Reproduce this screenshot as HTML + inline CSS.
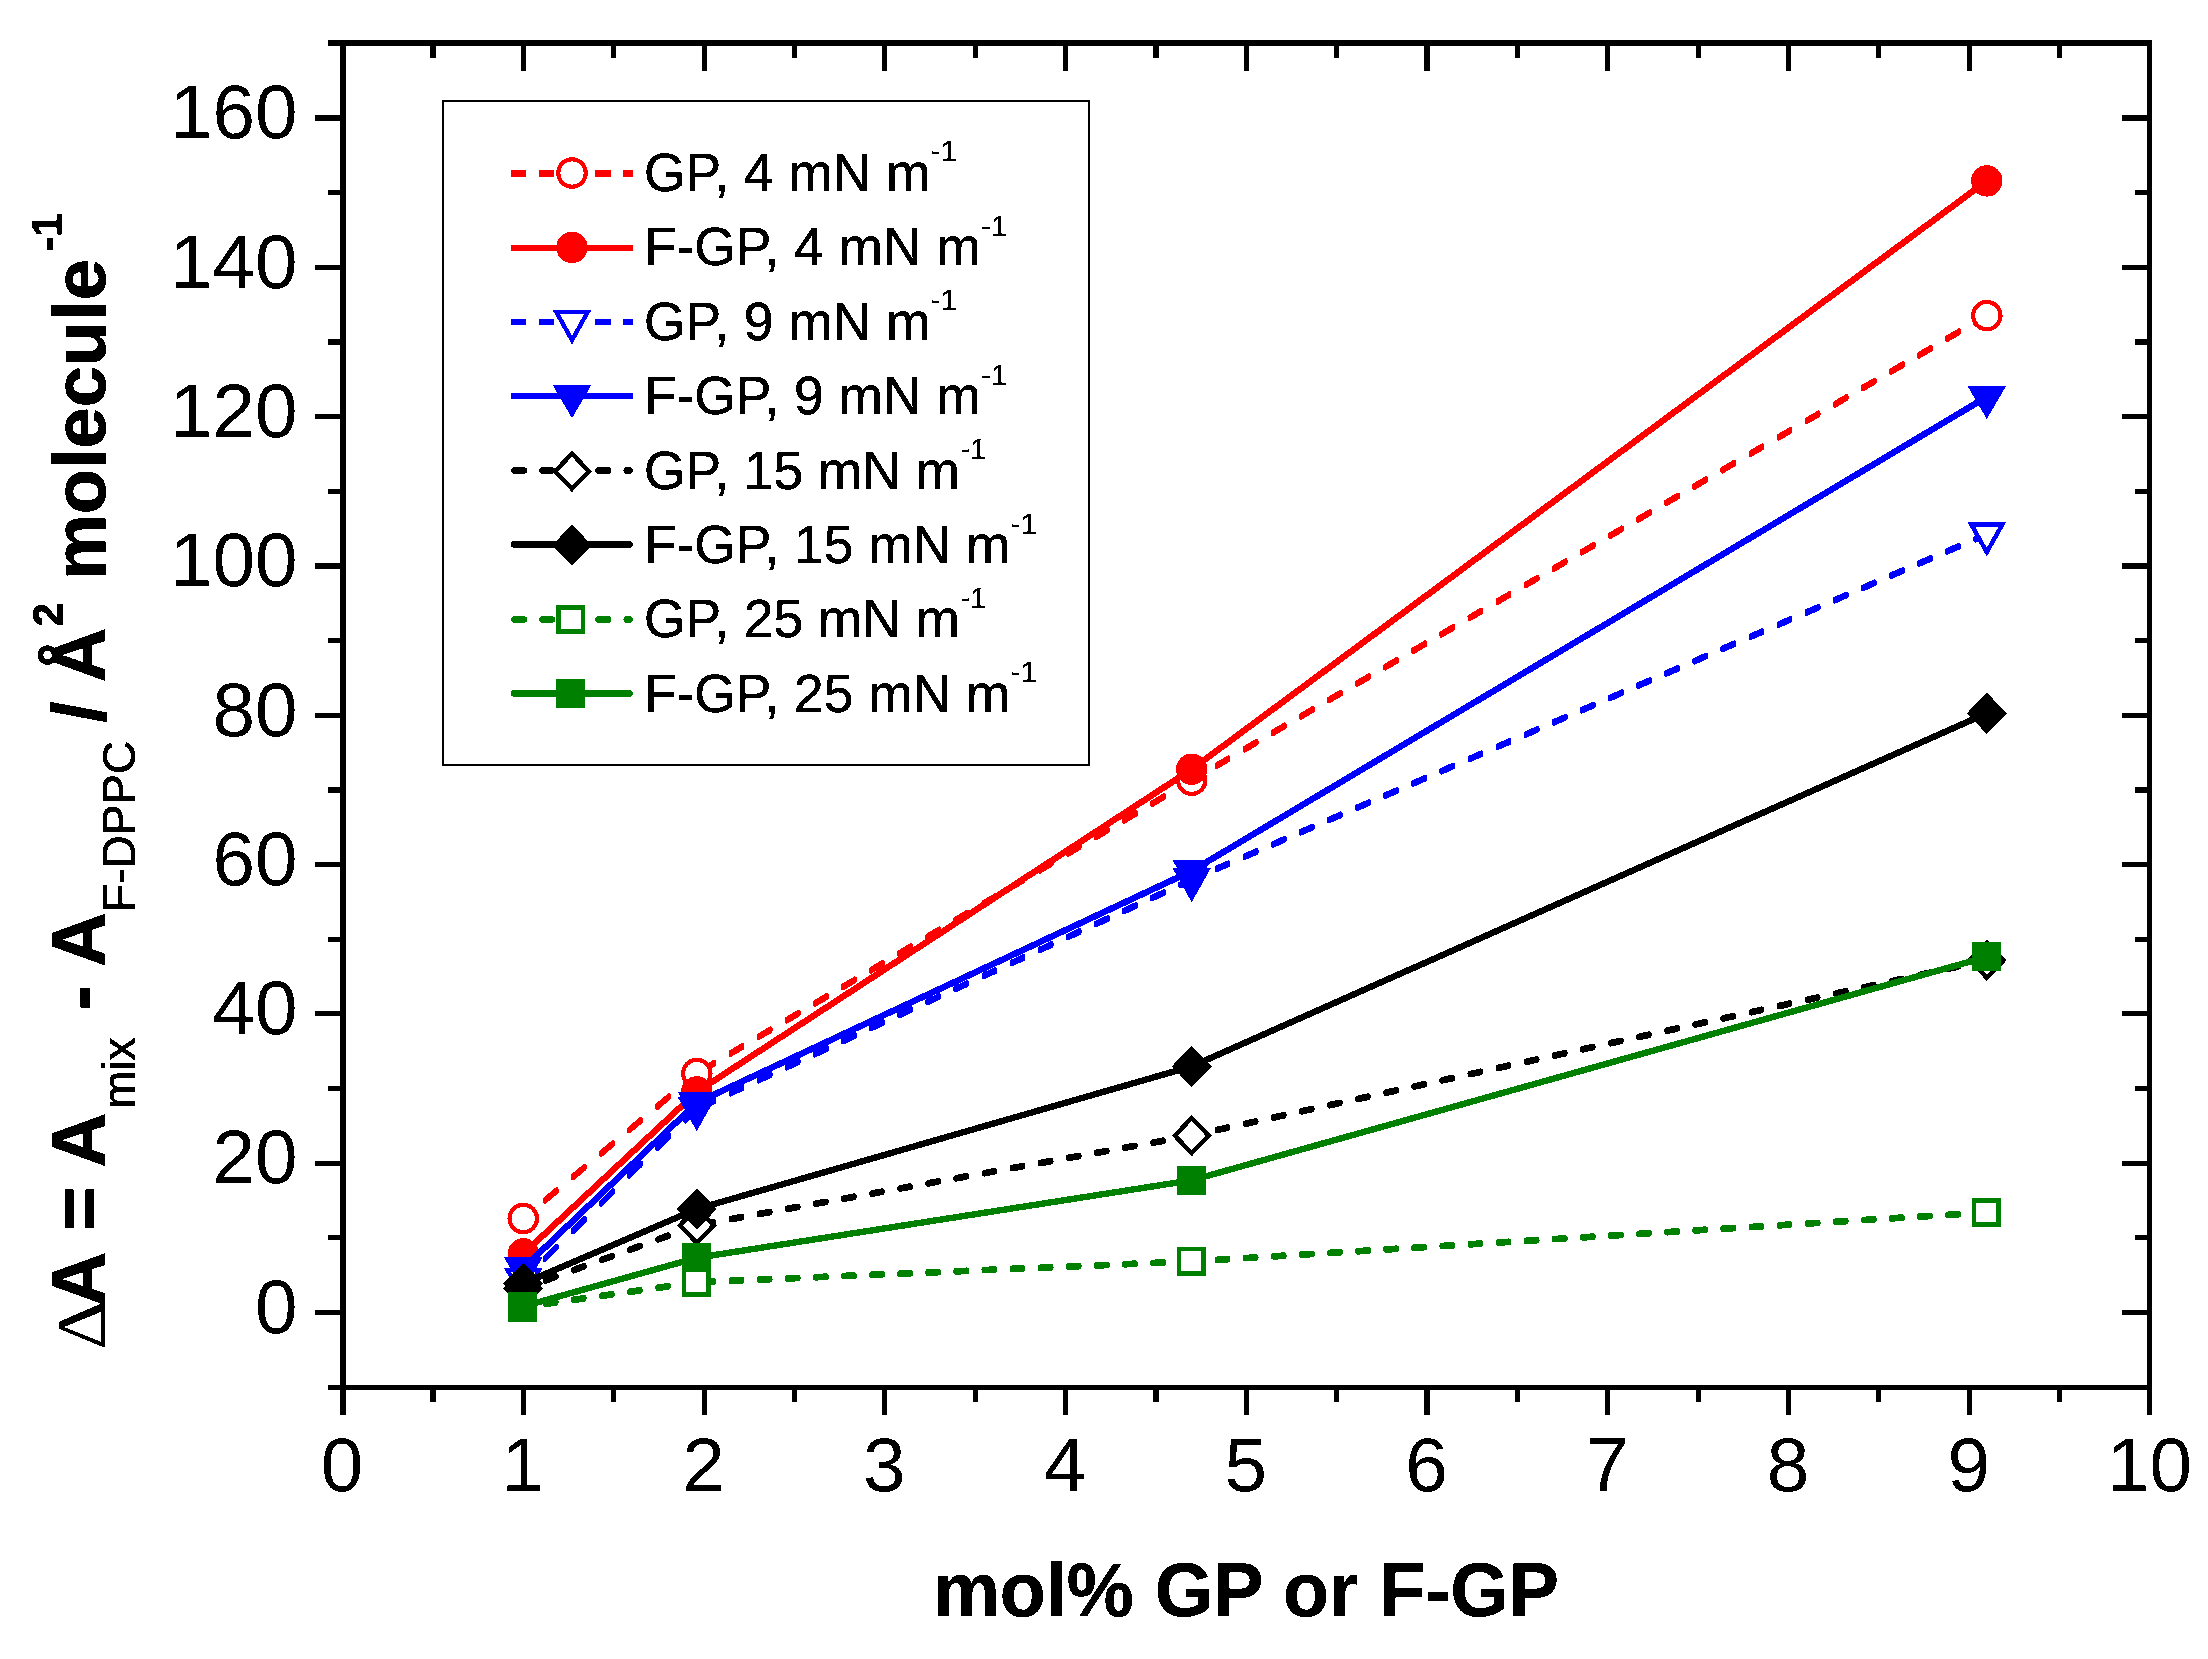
<!DOCTYPE html>
<html lang="en"><head><meta charset="utf-8"><title>Delta A vs mol% GP or F-GP</title>
<style>
html,body{margin:0;padding:0;background:#fff;}
body{width:2208px;height:1659px;overflow:hidden;}
svg{display:block;}
text{font-family:"Liberation Sans","DejaVu Sans",sans-serif;fill:#000;}
.tk{font-size:76.5px;}
.lg{font-size:53.3px;stroke:#000;stroke-width:0.5px;}
.lgs{font-size:29.5px;stroke-width:0.3px;}
.b{font-weight:bold;stroke:#000;stroke-width:0.9px;stroke-linejoin:round;}
.bi{font-weight:bold;font-style:italic;}
</style></head><body>
<svg width="2208" height="1659" viewBox="0 0 2208 1659">
<defs><filter id="crisp" x="-5%" y="-5%" width="110%" height="110%" color-interpolation-filters="sRGB"><feComponentTransfer><feFuncA type="discrete" tableValues="0 1"/></feComponentTransfer></filter></defs>
<rect x="0" y="0" width="2208" height="1659" fill="#ffffff"/>
<g id="plot-data" shape-rendering="crispEdges">
<g id="s-GP4">
<path d="M685.3 1081.7L694.8 1073.8L694.8 1076.6L685.3 1084.5ZM657.2 1105.2L669.0 1095.3L669.0 1098.1L657.2 1108.0ZM629.1 1128.7L640.9 1118.8L640.9 1121.6L629.1 1131.5ZM601.0 1152.2L612.8 1142.3L612.8 1145.1L601.0 1155.0ZM572.9 1175.6L584.7 1165.8L584.7 1168.6L572.9 1178.4ZM544.8 1199.1L556.6 1189.3L556.6 1192.1L544.8 1201.9ZM525.3 1215.4L528.5 1212.8L528.5 1215.6L525.3 1218.2Z" fill="#ff0000" stroke="#ff0000" stroke-width="4.0" stroke-linejoin="round"/>
<path d="M1180.2 785.6L1189.7 780.0L1189.7 782.8L1180.2 788.4ZM1152.1 802.3L1163.9 795.3L1163.9 798.1L1152.1 805.1ZM1124.0 818.9L1135.8 811.9L1135.8 814.7L1124.0 821.7ZM1095.9 835.6L1107.7 828.6L1107.7 831.4L1095.9 838.4ZM1067.8 852.2L1079.6 845.2L1079.6 848.0L1067.8 855.0ZM1039.7 868.9L1051.5 861.9L1051.5 864.7L1039.7 871.7ZM1011.6 885.5L1023.4 878.5L1023.4 881.3L1011.6 888.3ZM983.5 902.2L995.3 895.2L995.3 898.0L983.5 905.0ZM955.4 918.8L967.2 911.8L967.2 914.6L955.4 921.6ZM927.3 935.5L939.1 928.5L939.1 931.3L927.3 938.3ZM899.2 952.1L911.0 945.2L911.0 948.0L899.2 954.9ZM871.1 968.8L882.9 961.8L882.9 964.6L871.1 971.6ZM843.0 985.5L854.8 978.5L854.8 981.3L843.0 988.3ZM814.9 1002.1L826.7 995.1L826.7 997.9L814.9 1004.9ZM786.8 1018.8L798.6 1011.8L798.6 1014.6L786.8 1021.6ZM758.7 1035.4L770.5 1028.4L770.5 1031.2L758.7 1038.2ZM730.6 1052.1L742.4 1045.1L742.4 1047.9L730.6 1054.9ZM702.5 1068.7L714.3 1061.7L714.3 1064.5L702.5 1071.5Z" fill="#ff0000" stroke="#ff0000" stroke-width="4.0" stroke-linejoin="round"/>
<path d="M1975.3 320.9L1984.8 315.4L1984.8 318.2L1975.3 323.7ZM1947.2 337.3L1959.0 330.4L1959.0 333.2L1947.2 340.1ZM1919.1 353.8L1930.9 346.9L1930.9 349.7L1919.1 356.6ZM1891.0 370.2L1902.8 363.3L1902.8 366.1L1891.0 373.0ZM1862.9 386.6L1874.7 379.7L1874.7 382.5L1862.9 389.4ZM1834.8 403.0L1846.6 396.1L1846.6 398.9L1834.8 405.8ZM1806.7 419.4L1818.5 412.5L1818.5 415.3L1806.7 422.2ZM1778.6 435.9L1790.4 429.0L1790.4 431.8L1778.6 438.7ZM1750.5 452.3L1762.3 445.4L1762.3 448.2L1750.5 455.1ZM1722.4 468.7L1734.2 461.8L1734.2 464.6L1722.4 471.5ZM1694.3 485.1L1706.1 478.2L1706.1 481.0L1694.3 487.9ZM1666.2 501.5L1678.0 494.6L1678.0 497.4L1666.2 504.3ZM1638.1 518.0L1649.9 511.1L1649.9 513.9L1638.1 520.8ZM1610.0 534.4L1621.8 527.5L1621.8 530.3L1610.0 537.2ZM1581.9 550.8L1593.7 543.9L1593.7 546.7L1581.9 553.6ZM1553.8 567.2L1565.6 560.3L1565.6 563.1L1553.8 570.0ZM1525.7 583.6L1537.5 576.7L1537.5 579.5L1525.7 586.4ZM1497.6 600.1L1509.4 593.2L1509.4 596.0L1497.6 602.9ZM1469.5 616.5L1481.3 609.6L1481.3 612.4L1469.5 619.3ZM1441.4 632.9L1453.2 626.0L1453.2 628.8L1441.4 635.7ZM1413.3 649.3L1425.1 642.4L1425.1 645.2L1413.3 652.1ZM1385.2 665.7L1397.0 658.8L1397.0 661.6L1385.2 668.5ZM1357.1 682.2L1368.9 675.3L1368.9 678.1L1357.1 685.0ZM1329.0 698.6L1340.8 691.7L1340.8 694.5L1329.0 701.4ZM1300.9 715.0L1312.7 708.1L1312.7 710.9L1300.9 717.8ZM1272.8 731.4L1284.6 724.5L1284.6 727.3L1272.8 734.2ZM1244.7 747.8L1256.5 740.9L1256.5 743.7L1244.7 750.6ZM1216.6 764.3L1228.4 757.4L1228.4 760.2L1216.6 767.1ZM1193.7 777.6L1200.3 773.8L1200.3 776.6L1193.7 780.4Z" fill="#ff0000" stroke="#ff0000" stroke-width="4.0" stroke-linejoin="round"/>
<circle cx="523.3" cy="1218.5" r="13.7" fill="#fff" stroke="#ff0000" stroke-width="4.2"/>
<circle cx="696.8" cy="1073.5" r="13.7" fill="#fff" stroke="#ff0000" stroke-width="4.2"/>
<circle cx="1191.7" cy="780.2" r="13.7" fill="#fff" stroke="#ff0000" stroke-width="4.2"/>
<circle cx="1986.8" cy="315.6" r="13.7" fill="#fff" stroke="#ff0000" stroke-width="4.2"/>
</g>
<g id="s-FGP4">
<polyline points="523.3,1253.9 696.8,1091.9 1191.7,769.3 1986.8,180.9" fill="none" stroke="#ff0000" stroke-width="6.4" stroke-linejoin="round"/>
<circle cx="523.3" cy="1253.9" r="15.7" fill="#ff0000"/>
<circle cx="696.8" cy="1091.9" r="15.7" fill="#ff0000"/>
<circle cx="1191.7" cy="769.3" r="15.7" fill="#ff0000"/>
<circle cx="1986.8" cy="180.9" r="15.7" fill="#ff0000"/>
</g>
<g id="s-GP9">
<path d="M685.3 1118.7L694.8 1109.3L694.8 1112.1L685.3 1121.5ZM657.2 1146.4L669.0 1134.7L669.0 1137.5L657.2 1149.2ZM629.1 1174.1L640.9 1162.5L640.9 1165.3L629.1 1176.9ZM601.0 1201.9L612.8 1190.2L612.8 1193.0L601.0 1204.7ZM572.9 1229.6L584.7 1218.0L584.7 1220.8L572.9 1232.4ZM544.8 1257.4L556.6 1245.7L556.6 1248.5L544.8 1260.2ZM525.3 1276.6L528.5 1273.5L528.5 1276.3L525.3 1279.4Z" fill="#0000ff" stroke="#0000ff" stroke-width="4.0" stroke-linejoin="round"/>
<path d="M1180.2 883.6L1189.7 879.2L1189.7 882.0L1180.2 886.4ZM1152.1 896.6L1163.9 891.2L1163.9 894.0L1152.1 899.4ZM1124.0 909.6L1135.8 904.2L1135.8 907.0L1124.0 912.4ZM1095.9 922.6L1107.7 917.2L1107.7 920.0L1095.9 925.4ZM1067.8 935.6L1079.6 930.2L1079.6 933.0L1067.8 938.4ZM1039.7 948.6L1051.5 943.2L1051.5 946.0L1039.7 951.4ZM1011.6 961.6L1023.4 956.2L1023.4 959.0L1011.6 964.4ZM983.5 974.6L995.3 969.2L995.3 972.0L983.5 977.4ZM955.4 987.6L967.2 982.2L967.2 985.0L955.4 990.4ZM927.3 1000.6L939.1 995.2L939.1 998.0L927.3 1003.4ZM899.2 1013.6L911.0 1008.2L911.0 1011.0L899.2 1016.4ZM871.1 1026.6L882.9 1021.2L882.9 1024.0L871.1 1029.4ZM843.0 1039.7L854.8 1034.2L854.8 1037.0L843.0 1042.5ZM814.9 1052.7L826.7 1047.2L826.7 1050.0L814.9 1055.5ZM786.8 1065.7L798.6 1060.2L798.6 1063.0L786.8 1068.5ZM758.7 1078.7L770.5 1073.2L770.5 1076.0L758.7 1081.5ZM730.6 1091.7L742.4 1086.2L742.4 1089.0L730.6 1094.5ZM702.5 1104.7L714.3 1099.2L714.3 1102.0L702.5 1107.5Z" fill="#0000ff" stroke="#0000ff" stroke-width="4.0" stroke-linejoin="round"/>
<path d="M1975.3 537.7L1984.8 533.6L1984.8 536.4L1975.3 540.5ZM1947.2 549.9L1959.0 544.8L1959.0 547.6L1947.2 552.7ZM1919.1 562.1L1930.9 557.0L1930.9 559.8L1919.1 564.9ZM1891.0 574.3L1902.8 569.2L1902.8 572.0L1891.0 577.1ZM1862.9 586.6L1874.7 581.4L1874.7 584.2L1862.9 589.4ZM1834.8 598.8L1846.6 593.6L1846.6 596.4L1834.8 601.6ZM1806.7 611.0L1818.5 605.9L1818.5 608.7L1806.7 613.8ZM1778.6 623.2L1790.4 618.1L1790.4 620.9L1778.6 626.0ZM1750.5 635.4L1762.3 630.3L1762.3 633.1L1750.5 638.2ZM1722.4 647.6L1734.2 642.5L1734.2 645.3L1722.4 650.4ZM1694.3 659.8L1706.1 654.7L1706.1 657.5L1694.3 662.6ZM1666.2 672.1L1678.0 666.9L1678.0 669.7L1666.2 674.9ZM1638.1 684.3L1649.9 679.1L1649.9 681.9L1638.1 687.1ZM1610.0 696.5L1621.8 691.4L1621.8 694.2L1610.0 699.3ZM1581.9 708.7L1593.7 703.6L1593.7 706.4L1581.9 711.5ZM1553.8 720.9L1565.6 715.8L1565.6 718.6L1553.8 723.7ZM1525.7 733.1L1537.5 728.0L1537.5 730.8L1525.7 735.9ZM1497.6 745.3L1509.4 740.2L1509.4 743.0L1497.6 748.1ZM1469.5 757.6L1481.3 752.4L1481.3 755.2L1469.5 760.4ZM1441.4 769.8L1453.2 764.6L1453.2 767.4L1441.4 772.6ZM1413.3 782.0L1425.1 776.8L1425.1 779.6L1413.3 784.8ZM1385.2 794.2L1397.0 789.1L1397.0 791.9L1385.2 797.0ZM1357.1 806.4L1368.9 801.3L1368.9 804.1L1357.1 809.2ZM1329.0 818.6L1340.8 813.5L1340.8 816.3L1329.0 821.4ZM1300.9 830.8L1312.7 825.7L1312.7 828.5L1300.9 833.6ZM1272.8 843.0L1284.6 837.9L1284.6 840.7L1272.8 845.8ZM1244.7 855.3L1256.5 850.1L1256.5 852.9L1244.7 858.1ZM1216.6 867.5L1228.4 862.3L1228.4 865.1L1216.6 870.3ZM1193.7 877.4L1200.3 874.6L1200.3 877.4L1193.7 880.2Z" fill="#0000ff" stroke="#0000ff" stroke-width="4.0" stroke-linejoin="round"/>
<polygon points="507.7,1270.2 538.9,1270.2 523.3,1298.1" fill="#fff" stroke="#0000ff" stroke-width="4.4" stroke-linejoin="miter"/>
<polygon points="681.2,1098.9 712.4,1098.9 696.8,1126.8" fill="#fff" stroke="#0000ff" stroke-width="4.4" stroke-linejoin="miter"/>
<polygon points="1176.1,869.9 1207.3,869.9 1191.7,897.8" fill="#fff" stroke="#0000ff" stroke-width="4.4" stroke-linejoin="miter"/>
<polygon points="1971.2,524.3 2002.4,524.3 1986.8,552.2" fill="#fff" stroke="#0000ff" stroke-width="4.4" stroke-linejoin="miter"/>
</g>
<g id="s-FGP9">
<polyline points="523.3,1268.2 696.8,1102.7 1191.7,871.0 1986.8,396.9" fill="none" stroke="#0000ff" stroke-width="6.4" stroke-linejoin="round"/>
<polygon points="504.0,1257.2 542.6,1257.2 523.3,1290.4" fill="#0000ff"/>
<polygon points="677.5,1091.7 716.1,1091.7 696.8,1124.9" fill="#0000ff"/>
<polygon points="1172.4,860.0 1211.0,860.0 1191.7,893.2" fill="#0000ff"/>
<polygon points="1967.5,385.9 2006.1,385.9 1986.8,419.1" fill="#0000ff"/>
</g>
<g id="s-GP15">
<path d="M686.1 1228.6L694.0 1225.7L694.0 1226.9L686.1 1229.8ZM658.0 1238.8L668.2 1235.1L668.2 1236.3L658.0 1240.0ZM629.9 1249.1L640.1 1245.4L640.1 1246.6L629.9 1250.3ZM601.8 1259.3L612.0 1255.6L612.0 1256.8L601.8 1260.5ZM573.7 1269.5L583.9 1265.8L583.9 1267.0L573.7 1270.7ZM545.6 1279.8L555.8 1276.1L555.8 1277.3L545.6 1281.0ZM526.1 1286.9L527.7 1286.3L527.7 1287.5L526.1 1288.1Z" fill="#000000" stroke="#000000" stroke-width="5.6" stroke-linejoin="round"/>
<path d="M1181.0 1136.9L1188.9 1135.5L1188.9 1136.7L1181.0 1138.1ZM1152.9 1142.0L1163.1 1140.2L1163.1 1141.4L1152.9 1143.2ZM1124.8 1147.1L1135.0 1145.3L1135.0 1146.5L1124.8 1148.3ZM1096.7 1152.2L1106.9 1150.4L1106.9 1151.6L1096.7 1153.4ZM1068.6 1157.3L1078.8 1155.5L1078.8 1156.7L1068.6 1158.5ZM1040.5 1162.4L1050.7 1160.6L1050.7 1161.8L1040.5 1163.6ZM1012.4 1167.5L1022.6 1165.6L1022.6 1166.8L1012.4 1168.7ZM984.3 1172.6L994.5 1170.7L994.5 1171.9L984.3 1173.8ZM956.2 1177.7L966.4 1175.8L966.4 1177.0L956.2 1178.9ZM928.1 1182.8L938.3 1180.9L938.3 1182.1L928.1 1184.0ZM900.0 1187.9L910.2 1186.0L910.2 1187.2L900.0 1189.1ZM871.9 1193.0L882.1 1191.1L882.1 1192.3L871.9 1194.2ZM843.8 1198.1L854.0 1196.2L854.0 1197.4L843.8 1199.3ZM815.7 1203.1L825.9 1201.3L825.9 1202.5L815.7 1204.3ZM787.6 1208.2L797.8 1206.4L797.8 1207.6L787.6 1209.4ZM759.5 1213.3L769.7 1211.5L769.7 1212.7L759.5 1214.5ZM731.4 1218.4L741.6 1216.6L741.6 1217.8L731.4 1219.6ZM703.3 1223.5L713.5 1221.7L713.5 1222.9L703.3 1224.7Z" fill="#000000" stroke="#000000" stroke-width="5.6" stroke-linejoin="round"/>
<path d="M1976.1 962.0L1984.0 960.2L1984.0 961.4L1976.1 963.2ZM1948.0 968.2L1958.2 965.9L1958.2 967.1L1948.0 969.4ZM1919.9 974.4L1930.1 972.1L1930.1 973.3L1919.9 975.6ZM1891.8 980.6L1902.0 978.3L1902.0 979.5L1891.8 981.8ZM1863.7 986.8L1873.9 984.5L1873.9 985.7L1863.7 988.0ZM1835.6 993.0L1845.8 990.7L1845.8 991.9L1835.6 994.2ZM1807.5 999.2L1817.7 996.9L1817.7 998.1L1807.5 1000.4ZM1779.4 1005.4L1789.6 1003.1L1789.6 1004.3L1779.4 1006.6ZM1751.3 1011.6L1761.5 1009.3L1761.5 1010.5L1751.3 1012.8ZM1723.2 1017.8L1733.4 1015.5L1733.4 1016.7L1723.2 1019.0ZM1695.1 1023.9L1705.3 1021.7L1705.3 1022.9L1695.1 1025.1ZM1667.0 1030.1L1677.2 1027.9L1677.2 1029.1L1667.0 1031.3ZM1638.9 1036.3L1649.1 1034.1L1649.1 1035.3L1638.9 1037.5ZM1610.8 1042.5L1621.0 1040.3L1621.0 1041.5L1610.8 1043.7ZM1582.7 1048.7L1592.9 1046.5L1592.9 1047.7L1582.7 1049.9ZM1554.6 1054.9L1564.8 1052.7L1564.8 1053.9L1554.6 1056.1ZM1526.5 1061.1L1536.7 1058.9L1536.7 1060.1L1526.5 1062.3ZM1498.4 1067.3L1508.6 1065.1L1508.6 1066.3L1498.4 1068.5ZM1470.3 1073.5L1480.5 1071.3L1480.5 1072.5L1470.3 1074.7ZM1442.2 1079.7L1452.4 1077.5L1452.4 1078.7L1442.2 1080.9ZM1414.1 1085.9L1424.3 1083.7L1424.3 1084.9L1414.1 1087.1ZM1386.0 1092.1L1396.2 1089.9L1396.2 1091.1L1386.0 1093.3ZM1357.9 1098.3L1368.1 1096.1L1368.1 1097.3L1357.9 1099.5ZM1329.8 1104.5L1340.0 1102.3L1340.0 1103.5L1329.8 1105.7ZM1301.7 1110.7L1311.9 1108.5L1311.9 1109.7L1301.7 1111.9ZM1273.6 1116.9L1283.8 1114.7L1283.8 1115.9L1273.6 1118.1ZM1245.5 1123.1L1255.7 1120.9L1255.7 1122.1L1245.5 1124.3ZM1217.4 1129.3L1227.6 1127.1L1227.6 1128.3L1217.4 1130.5ZM1194.5 1134.4L1199.5 1133.3L1199.5 1134.5L1194.5 1135.6Z" fill="#000000" stroke="#000000" stroke-width="5.6" stroke-linejoin="round"/>
<polygon points="523.3,1270.9 540.2,1288.5 523.3,1306.1 506.4,1288.5" fill="#fff" stroke="#000000" stroke-width="4.4" stroke-linejoin="miter"/>
<polygon points="696.8,1207.7 713.7,1225.3 696.8,1242.9 679.9,1225.3" fill="#fff" stroke="#000000" stroke-width="4.4" stroke-linejoin="miter"/>
<polygon points="1191.7,1118.0 1208.6,1135.6 1191.7,1153.2 1174.8,1135.6" fill="#fff" stroke="#000000" stroke-width="4.4" stroke-linejoin="miter"/>
<polygon points="1986.8,942.6 2003.7,960.2 1986.8,977.8 1969.9,960.2" fill="#fff" stroke="#000000" stroke-width="4.4" stroke-linejoin="miter"/>
</g>
<g id="s-FGP15">
<polyline points="523.3,1283.5 696.8,1209.0 1191.7,1066.4 1986.8,713.3" fill="none" stroke="#000000" stroke-width="6.4" stroke-linejoin="round"/>
<polygon points="523.3,1262.8 543.3,1283.5 523.3,1304.2 503.3,1283.5" fill="#000000"/>
<polygon points="696.8,1188.3 716.8,1209.0 696.8,1229.7 676.8,1209.0" fill="#000000"/>
<polygon points="1191.7,1045.7 1211.7,1066.4 1191.7,1087.1 1171.7,1066.4" fill="#000000"/>
<polygon points="1986.8,692.6 2006.8,713.3 1986.8,734.0 1966.8,713.3" fill="#000000"/>
</g>
<g id="s-GP25">
<path d="M686.1 1283.1L694.0 1282.0L694.0 1283.2L686.1 1284.3ZM658.0 1287.1L668.2 1285.7L668.2 1286.9L658.0 1288.3ZM629.9 1291.2L640.1 1289.7L640.1 1290.9L629.9 1292.4ZM601.8 1295.2L612.0 1293.7L612.0 1294.9L601.8 1296.4ZM573.7 1299.2L583.9 1297.7L583.9 1298.9L573.7 1300.4ZM545.6 1303.2L555.8 1301.8L555.8 1303.0L545.6 1304.4ZM526.1 1306.0L527.7 1305.8L527.7 1307.0L526.1 1307.2Z" fill="#008000" stroke="#008000" stroke-width="5.6" stroke-linejoin="round"/>
<path d="M1181.0 1261.2L1188.9 1260.9L1188.9 1262.1L1181.0 1262.4ZM1152.9 1262.4L1163.1 1262.0L1163.1 1263.2L1152.9 1263.6ZM1124.8 1263.6L1135.0 1263.2L1135.0 1264.4L1124.8 1264.8ZM1096.7 1264.8L1106.9 1264.4L1106.9 1265.6L1096.7 1266.0ZM1068.6 1266.0L1078.8 1265.5L1078.8 1266.7L1068.6 1267.2ZM1040.5 1267.2L1050.7 1266.7L1050.7 1267.9L1040.5 1268.4ZM1012.4 1268.3L1022.6 1267.9L1022.6 1269.1L1012.4 1269.5ZM984.3 1269.5L994.5 1269.1L994.5 1270.3L984.3 1270.7ZM956.2 1270.7L966.4 1270.3L966.4 1271.5L956.2 1271.9ZM928.1 1271.9L938.3 1271.5L938.3 1272.7L928.1 1273.1ZM900.0 1273.1L910.2 1272.6L910.2 1273.8L900.0 1274.3ZM871.9 1274.2L882.1 1273.8L882.1 1275.0L871.9 1275.4ZM843.8 1275.4L854.0 1275.0L854.0 1276.2L843.8 1276.6ZM815.7 1276.6L825.9 1276.2L825.9 1277.4L815.7 1277.8ZM787.6 1277.8L797.8 1277.4L797.8 1278.6L787.6 1279.0ZM759.5 1279.0L769.7 1278.5L769.7 1279.7L759.5 1280.2ZM731.4 1280.1L741.6 1279.7L741.6 1280.9L731.4 1281.3ZM703.3 1281.3L713.5 1280.9L713.5 1282.1L703.3 1282.5Z" fill="#008000" stroke="#008000" stroke-width="5.6" stroke-linejoin="round"/>
<path d="M1976.1 1212.6L1984.0 1212.1L1984.0 1213.3L1976.1 1213.8ZM1948.0 1214.3L1958.2 1213.7L1958.2 1214.9L1948.0 1215.5ZM1919.9 1216.0L1930.1 1215.4L1930.1 1216.6L1919.9 1217.2ZM1891.8 1217.7L1902.0 1217.1L1902.0 1218.3L1891.8 1218.9ZM1863.7 1219.5L1873.9 1218.8L1873.9 1220.0L1863.7 1220.7ZM1835.6 1221.2L1845.8 1220.6L1845.8 1221.8L1835.6 1222.4ZM1807.5 1222.9L1817.7 1222.3L1817.7 1223.5L1807.5 1224.1ZM1779.4 1224.7L1789.6 1224.0L1789.6 1225.2L1779.4 1225.9ZM1751.3 1226.4L1761.5 1225.8L1761.5 1227.0L1751.3 1227.6ZM1723.2 1228.1L1733.4 1227.5L1733.4 1228.7L1723.2 1229.3ZM1695.1 1229.8L1705.3 1229.2L1705.3 1230.4L1695.1 1231.0ZM1667.0 1231.6L1677.2 1230.9L1677.2 1232.1L1667.0 1232.8ZM1638.9 1233.3L1649.1 1232.7L1649.1 1233.9L1638.9 1234.5ZM1610.8 1235.0L1621.0 1234.4L1621.0 1235.6L1610.8 1236.2ZM1582.7 1236.8L1592.9 1236.1L1592.9 1237.3L1582.7 1238.0ZM1554.6 1238.5L1564.8 1237.9L1564.8 1239.1L1554.6 1239.7ZM1526.5 1240.2L1536.7 1239.6L1536.7 1240.8L1526.5 1241.4ZM1498.4 1241.9L1508.6 1241.3L1508.6 1242.5L1498.4 1243.1ZM1470.3 1243.7L1480.5 1243.0L1480.5 1244.2L1470.3 1244.9ZM1442.2 1245.4L1452.4 1244.8L1452.4 1246.0L1442.2 1246.6ZM1414.1 1247.1L1424.3 1246.5L1424.3 1247.7L1414.1 1248.3ZM1386.0 1248.9L1396.2 1248.2L1396.2 1249.4L1386.0 1250.1ZM1357.9 1250.6L1368.1 1250.0L1368.1 1251.2L1357.9 1251.8ZM1329.8 1252.3L1340.0 1251.7L1340.0 1252.9L1329.8 1253.5ZM1301.7 1254.0L1311.9 1253.4L1311.9 1254.6L1301.7 1255.2ZM1273.6 1255.8L1283.8 1255.1L1283.8 1256.3L1273.6 1257.0ZM1245.5 1257.5L1255.7 1256.9L1255.7 1258.1L1245.5 1258.7ZM1217.4 1259.2L1227.6 1258.6L1227.6 1259.8L1217.4 1260.4ZM1194.5 1260.6L1199.5 1260.3L1199.5 1261.5L1194.5 1261.8Z" fill="#008000" stroke="#008000" stroke-width="5.6" stroke-linejoin="round"/>
<rect x="510.6" y="1294.8" width="24.4" height="24.4" fill="#fff" stroke="#008000" stroke-width="4.6"/>
<rect x="684.1" y="1270.0" width="24.4" height="24.4" fill="#fff" stroke="#008000" stroke-width="4.6"/>
<rect x="1179.0" y="1249.2" width="24.4" height="24.4" fill="#fff" stroke="#008000" stroke-width="4.6"/>
<rect x="1974.1" y="1200.3" width="24.4" height="24.4" fill="#fff" stroke="#008000" stroke-width="4.6"/>
</g>
<g id="s-FGP25">
<polyline points="523.3,1306.4 696.8,1257.8 1191.7,1180.3 1986.8,956.9" fill="none" stroke="#008000" stroke-width="6.4" stroke-linejoin="round"/>
<rect x="508.3" y="1291.9" width="29" height="29" fill="#008000"/>
<rect x="681.8" y="1243.3" width="29" height="29" fill="#008000"/>
<rect x="1176.7" y="1165.8" width="29" height="29" fill="#008000"/>
<rect x="1971.8" y="942.4" width="29" height="29" fill="#008000"/>
</g>
</g>
<g id="axes" stroke="#000" fill="none" shape-rendering="crispEdges">
<line x1="343.0" y1="40.2" x2="343.0" y2="1415.3" stroke-width="5.6"/>
<line x1="2149.5" y1="40.2" x2="2149.5" y2="1415.3" stroke-width="5.6"/>
<line x1="328.0" y1="43.0" x2="2152.3" y2="43.0" stroke-width="5.6"/>
<line x1="328.0" y1="1387.5" x2="2152.3" y2="1387.5" stroke-width="5.6"/>
<line x1="433.0" y1="1389.8" x2="433.0" y2="1402.3" stroke-width="5.2"/>
<line x1="433.0" y1="45.3" x2="433.0" y2="57.8" stroke-width="5.2"/>
<line x1="523.3" y1="1389.8" x2="523.3" y2="1415.3" stroke-width="5.2"/>
<line x1="523.3" y1="45.3" x2="523.3" y2="70.8" stroke-width="5.2"/>
<line x1="613.7" y1="1389.8" x2="613.7" y2="1402.3" stroke-width="5.2"/>
<line x1="613.7" y1="45.3" x2="613.7" y2="57.8" stroke-width="5.2"/>
<line x1="704.1" y1="1389.8" x2="704.1" y2="1415.3" stroke-width="5.2"/>
<line x1="704.1" y1="45.3" x2="704.1" y2="70.8" stroke-width="5.2"/>
<line x1="794.4" y1="1389.8" x2="794.4" y2="1402.3" stroke-width="5.2"/>
<line x1="794.4" y1="45.3" x2="794.4" y2="57.8" stroke-width="5.2"/>
<line x1="884.8" y1="1389.8" x2="884.8" y2="1415.3" stroke-width="5.2"/>
<line x1="884.8" y1="45.3" x2="884.8" y2="70.8" stroke-width="5.2"/>
<line x1="975.2" y1="1389.8" x2="975.2" y2="1402.3" stroke-width="5.2"/>
<line x1="975.2" y1="45.3" x2="975.2" y2="57.8" stroke-width="5.2"/>
<line x1="1065.5" y1="1389.8" x2="1065.5" y2="1415.3" stroke-width="5.2"/>
<line x1="1065.5" y1="45.3" x2="1065.5" y2="70.8" stroke-width="5.2"/>
<line x1="1155.9" y1="1389.8" x2="1155.9" y2="1402.3" stroke-width="5.2"/>
<line x1="1155.9" y1="45.3" x2="1155.9" y2="57.8" stroke-width="5.2"/>
<line x1="1246.2" y1="1389.8" x2="1246.2" y2="1415.3" stroke-width="5.2"/>
<line x1="1246.2" y1="45.3" x2="1246.2" y2="70.8" stroke-width="5.2"/>
<line x1="1336.6" y1="1389.8" x2="1336.6" y2="1402.3" stroke-width="5.2"/>
<line x1="1336.6" y1="45.3" x2="1336.6" y2="57.8" stroke-width="5.2"/>
<line x1="1427.0" y1="1389.8" x2="1427.0" y2="1415.3" stroke-width="5.2"/>
<line x1="1427.0" y1="45.3" x2="1427.0" y2="70.8" stroke-width="5.2"/>
<line x1="1517.3" y1="1389.8" x2="1517.3" y2="1402.3" stroke-width="5.2"/>
<line x1="1517.3" y1="45.3" x2="1517.3" y2="57.8" stroke-width="5.2"/>
<line x1="1607.7" y1="1389.8" x2="1607.7" y2="1415.3" stroke-width="5.2"/>
<line x1="1607.7" y1="45.3" x2="1607.7" y2="70.8" stroke-width="5.2"/>
<line x1="1698.1" y1="1389.8" x2="1698.1" y2="1402.3" stroke-width="5.2"/>
<line x1="1698.1" y1="45.3" x2="1698.1" y2="57.8" stroke-width="5.2"/>
<line x1="1788.4" y1="1389.8" x2="1788.4" y2="1415.3" stroke-width="5.2"/>
<line x1="1788.4" y1="45.3" x2="1788.4" y2="70.8" stroke-width="5.2"/>
<line x1="1878.8" y1="1389.8" x2="1878.8" y2="1402.3" stroke-width="5.2"/>
<line x1="1878.8" y1="45.3" x2="1878.8" y2="57.8" stroke-width="5.2"/>
<line x1="1969.2" y1="1389.8" x2="1969.2" y2="1415.3" stroke-width="5.2"/>
<line x1="1969.2" y1="45.3" x2="1969.2" y2="70.8" stroke-width="5.2"/>
<line x1="2059.5" y1="1389.8" x2="2059.5" y2="1402.3" stroke-width="5.2"/>
<line x1="2059.5" y1="45.3" x2="2059.5" y2="57.8" stroke-width="5.2"/>
<line x1="340.7" y1="1312.4" x2="315.2" y2="1312.4" stroke-width="5.2"/>
<line x1="2147.2" y1="1312.4" x2="2121.7" y2="1312.4" stroke-width="5.2"/>
<line x1="340.7" y1="1237.8" x2="328.2" y2="1237.8" stroke-width="5.2"/>
<line x1="2147.2" y1="1237.8" x2="2134.7" y2="1237.8" stroke-width="5.2"/>
<line x1="340.7" y1="1163.1" x2="315.2" y2="1163.1" stroke-width="5.2"/>
<line x1="2147.2" y1="1163.1" x2="2121.7" y2="1163.1" stroke-width="5.2"/>
<line x1="340.7" y1="1088.5" x2="328.2" y2="1088.5" stroke-width="5.2"/>
<line x1="2147.2" y1="1088.5" x2="2134.7" y2="1088.5" stroke-width="5.2"/>
<line x1="340.7" y1="1013.8" x2="315.2" y2="1013.8" stroke-width="5.2"/>
<line x1="2147.2" y1="1013.8" x2="2121.7" y2="1013.8" stroke-width="5.2"/>
<line x1="340.7" y1="939.2" x2="328.2" y2="939.2" stroke-width="5.2"/>
<line x1="2147.2" y1="939.2" x2="2134.7" y2="939.2" stroke-width="5.2"/>
<line x1="340.7" y1="864.5" x2="315.2" y2="864.5" stroke-width="5.2"/>
<line x1="2147.2" y1="864.5" x2="2121.7" y2="864.5" stroke-width="5.2"/>
<line x1="340.7" y1="789.9" x2="328.2" y2="789.9" stroke-width="5.2"/>
<line x1="2147.2" y1="789.9" x2="2134.7" y2="789.9" stroke-width="5.2"/>
<line x1="340.7" y1="715.2" x2="315.2" y2="715.2" stroke-width="5.2"/>
<line x1="2147.2" y1="715.2" x2="2121.7" y2="715.2" stroke-width="5.2"/>
<line x1="340.7" y1="640.5" x2="328.2" y2="640.5" stroke-width="5.2"/>
<line x1="2147.2" y1="640.5" x2="2134.7" y2="640.5" stroke-width="5.2"/>
<line x1="340.7" y1="565.9" x2="315.2" y2="565.9" stroke-width="5.2"/>
<line x1="2147.2" y1="565.9" x2="2121.7" y2="565.9" stroke-width="5.2"/>
<line x1="340.7" y1="491.3" x2="328.2" y2="491.3" stroke-width="5.2"/>
<line x1="2147.2" y1="491.3" x2="2134.7" y2="491.3" stroke-width="5.2"/>
<line x1="340.7" y1="416.6" x2="315.2" y2="416.6" stroke-width="5.2"/>
<line x1="2147.2" y1="416.6" x2="2121.7" y2="416.6" stroke-width="5.2"/>
<line x1="340.7" y1="342.0" x2="328.2" y2="342.0" stroke-width="5.2"/>
<line x1="2147.2" y1="342.0" x2="2134.7" y2="342.0" stroke-width="5.2"/>
<line x1="340.7" y1="267.3" x2="315.2" y2="267.3" stroke-width="5.2"/>
<line x1="2147.2" y1="267.3" x2="2121.7" y2="267.3" stroke-width="5.2"/>
<line x1="340.7" y1="192.7" x2="328.2" y2="192.7" stroke-width="5.2"/>
<line x1="2147.2" y1="192.7" x2="2134.7" y2="192.7" stroke-width="5.2"/>
<line x1="340.7" y1="118.0" x2="315.2" y2="118.0" stroke-width="5.2"/>
<line x1="2147.2" y1="118.0" x2="2121.7" y2="118.0" stroke-width="5.2"/>
</g>
<g id="ticklabels" class="tk" filter="url(#crisp)">
<text x="342.1" y="1490.6" text-anchor="middle">0</text>
<text x="522.8" y="1490.6" text-anchor="middle">1</text>
<text x="703.6" y="1490.6" text-anchor="middle">2</text>
<text x="884.3" y="1490.6" text-anchor="middle">3</text>
<text x="1065.0" y="1490.6" text-anchor="middle">4</text>
<text x="1245.8" y="1490.6" text-anchor="middle">5</text>
<text x="1426.5" y="1490.6" text-anchor="middle">6</text>
<text x="1607.2" y="1490.6" text-anchor="middle">7</text>
<text x="1787.9" y="1490.6" text-anchor="middle">8</text>
<text x="1968.7" y="1490.6" text-anchor="middle">9</text>
<text x="2149.4" y="1490.6" text-anchor="middle">10</text>
<text x="297.5" y="1332.7" text-anchor="end">0</text>
<text x="297.5" y="1183.4" text-anchor="end">20</text>
<text x="297.5" y="1034.1" text-anchor="end">40</text>
<text x="297.5" y="884.8" text-anchor="end">60</text>
<text x="297.5" y="735.5" text-anchor="end">80</text>
<text x="297.5" y="586.2" text-anchor="end">100</text>
<text x="297.5" y="436.9" text-anchor="end">120</text>
<text x="297.5" y="287.6" text-anchor="end">140</text>
<text x="297.5" y="138.3" text-anchor="end">160</text>
</g>
<text id="xtitle" class="b" filter="url(#crisp)" x="1246" y="1616" text-anchor="middle" style="font-size:75.3px;stroke-width:0.4px">mol% GP or F-GP</text>
<g id="ytitle" filter="url(#crisp)"><g transform="translate(105.4,0) rotate(-90)">
<text transform="translate(-1349.8,0.0) scale(1.100,1)" class="" style="font-size:70.0px;font-family:'Liberation Serif','DejaVu Serif',serif">Δ</text>
<text transform="translate(-1306.5,0.0) scale(1.000,1)" class="b" style="font-size:76.0px">A</text>
<text transform="translate(-1231.0,0.0) scale(1.000,1)" class="b" style="font-size:76.0px">=</text>
<text transform="translate(-1167.4,0.0) scale(1.000,1)" class="b" style="font-size:76.0px">A</text>
<text transform="translate(-1109.0,29.1) scale(1.000,1)" class="" style="font-size:46.0px;stroke:#000;stroke-width:0.7px">mix</text>
<text transform="translate(-1010.5,0.0) scale(1.000,1)" class="b" style="font-size:76.0px">-</text>
<text transform="translate(-967.0,0.0) scale(1.000,1)" class="b" style="font-size:76.0px">A</text>
<text transform="translate(-912.0,29.1) scale(1.000,1)" class="" style="font-size:46.0px;stroke:#000;stroke-width:0.7px">F-DPPC</text>
<text transform="translate(-722.5,0.0) scale(1.000,1)" class="b" style="font-size:76.0px">/</text>
<text transform="translate(-682.5,0.0) scale(1.000,1)" class="b" style="font-size:76.0px">Å</text>
<text transform="translate(-626.5,-43.0) scale(1.000,1)" class="b" style="font-size:42.5px">2</text>
<text transform="translate(-580.0,0.0) scale(1.000,1)" class="b" style="font-size:74.0px">molecule</text>
<text transform="translate(-251.0,-43.6) scale(1.000,1)" class="b" style="font-size:42.5px">-1</text>
</g></g>
<g id="legend">
<rect x="443" y="101" width="646" height="664" fill="#fff" stroke="#000" stroke-width="2" shape-rendering="crispEdges"/>
<g shape-rendering="crispEdges">
<line x1="511" y1="173.5" x2="633" y2="173.5" stroke="#ff0000" stroke-width="6.4" stroke-dasharray="15.20 12.90"/>
<circle cx="572.0" cy="173.0" r="13.7" fill="#fff" stroke="#ff0000" stroke-width="4.2"/>
<line x1="511" y1="248.0" x2="633" y2="248.0" stroke="#ff0000" stroke-width="6.4"/>
<circle cx="572.0" cy="247.5" r="15.7" fill="#ff0000"/>
<line x1="511" y1="322.0" x2="633" y2="322.0" stroke="#0000ff" stroke-width="6.4" stroke-dasharray="15.20 12.90"/>
<polygon points="556.4,312.2 587.6,312.2 572.0,340.1" fill="#fff" stroke="#0000ff" stroke-width="4.4" stroke-linejoin="miter"/>
<line x1="511" y1="396.0" x2="633" y2="396.0" stroke="#0000ff" stroke-width="6.4"/>
<polygon points="552.7,385.0 591.3,385.0 572.0,418.2" fill="#0000ff"/>
<line x1="514.2" y1="470.5" x2="629.8" y2="470.5" stroke="#000000" stroke-width="6.4" stroke-dasharray="9.76 18.34" stroke-linecap="round"/>
<polygon points="572.0,453.7 588.9,471.3 572.0,488.9 555.1,471.3" fill="#fff" stroke="#000000" stroke-width="4.4" stroke-linejoin="miter"/>
<line x1="513.9" y1="544.5" x2="629.8" y2="544.5" stroke="#000000" stroke-width="6.4" stroke-linecap="round"/>
<polygon points="572.0,524.6 592.0,545.3 572.0,566.0 552.0,545.3" fill="#000000"/>
<line x1="514.2" y1="619.5" x2="629.8" y2="619.5" stroke="#008000" stroke-width="6.4" stroke-dasharray="9.76 18.34" stroke-linecap="round"/>
<rect x="558.6" y="607.3" width="24.4" height="24.4" fill="#fff" stroke="#008000" stroke-width="4.6"/>
<line x1="513.9" y1="693.5" x2="629.8" y2="693.5" stroke="#008000" stroke-width="6.4" stroke-linecap="round"/>
<rect x="556.3" y="679.0" width="29" height="29" fill="#008000"/>
</g>
<g id="legendtext" filter="url(#crisp)">
<text class="lg" x="644" y="190.8">GP, 4 mN m<tspan class="lgs" dx="0.5" dy="-29.5">-1</tspan></text>
<text class="lg" x="644" y="265.2">F-GP, 4 mN m<tspan class="lgs" dx="0.5" dy="-29.5">-1</tspan></text>
<text class="lg" x="644" y="339.7">GP, 9 mN m<tspan class="lgs" dx="0.5" dy="-29.5">-1</tspan></text>
<text class="lg" x="644" y="414.1">F-GP, 9 mN m<tspan class="lgs" dx="0.5" dy="-29.5">-1</tspan></text>
<text class="lg" x="644" y="488.5">GP, 15 mN m<tspan class="lgs" dx="0.5" dy="-29.5">-1</tspan></text>
<text class="lg" x="644" y="563.0">F-GP, 15 mN m<tspan class="lgs" dx="0.5" dy="-29.5">-1</tspan></text>
<text class="lg" x="644" y="637.4">GP, 25 mN m<tspan class="lgs" dx="0.5" dy="-29.5">-1</tspan></text>
<text class="lg" x="644" y="711.8">F-GP, 25 mN m<tspan class="lgs" dx="0.5" dy="-29.5">-1</tspan></text>
</g>
</g>
</svg>
</body></html>
